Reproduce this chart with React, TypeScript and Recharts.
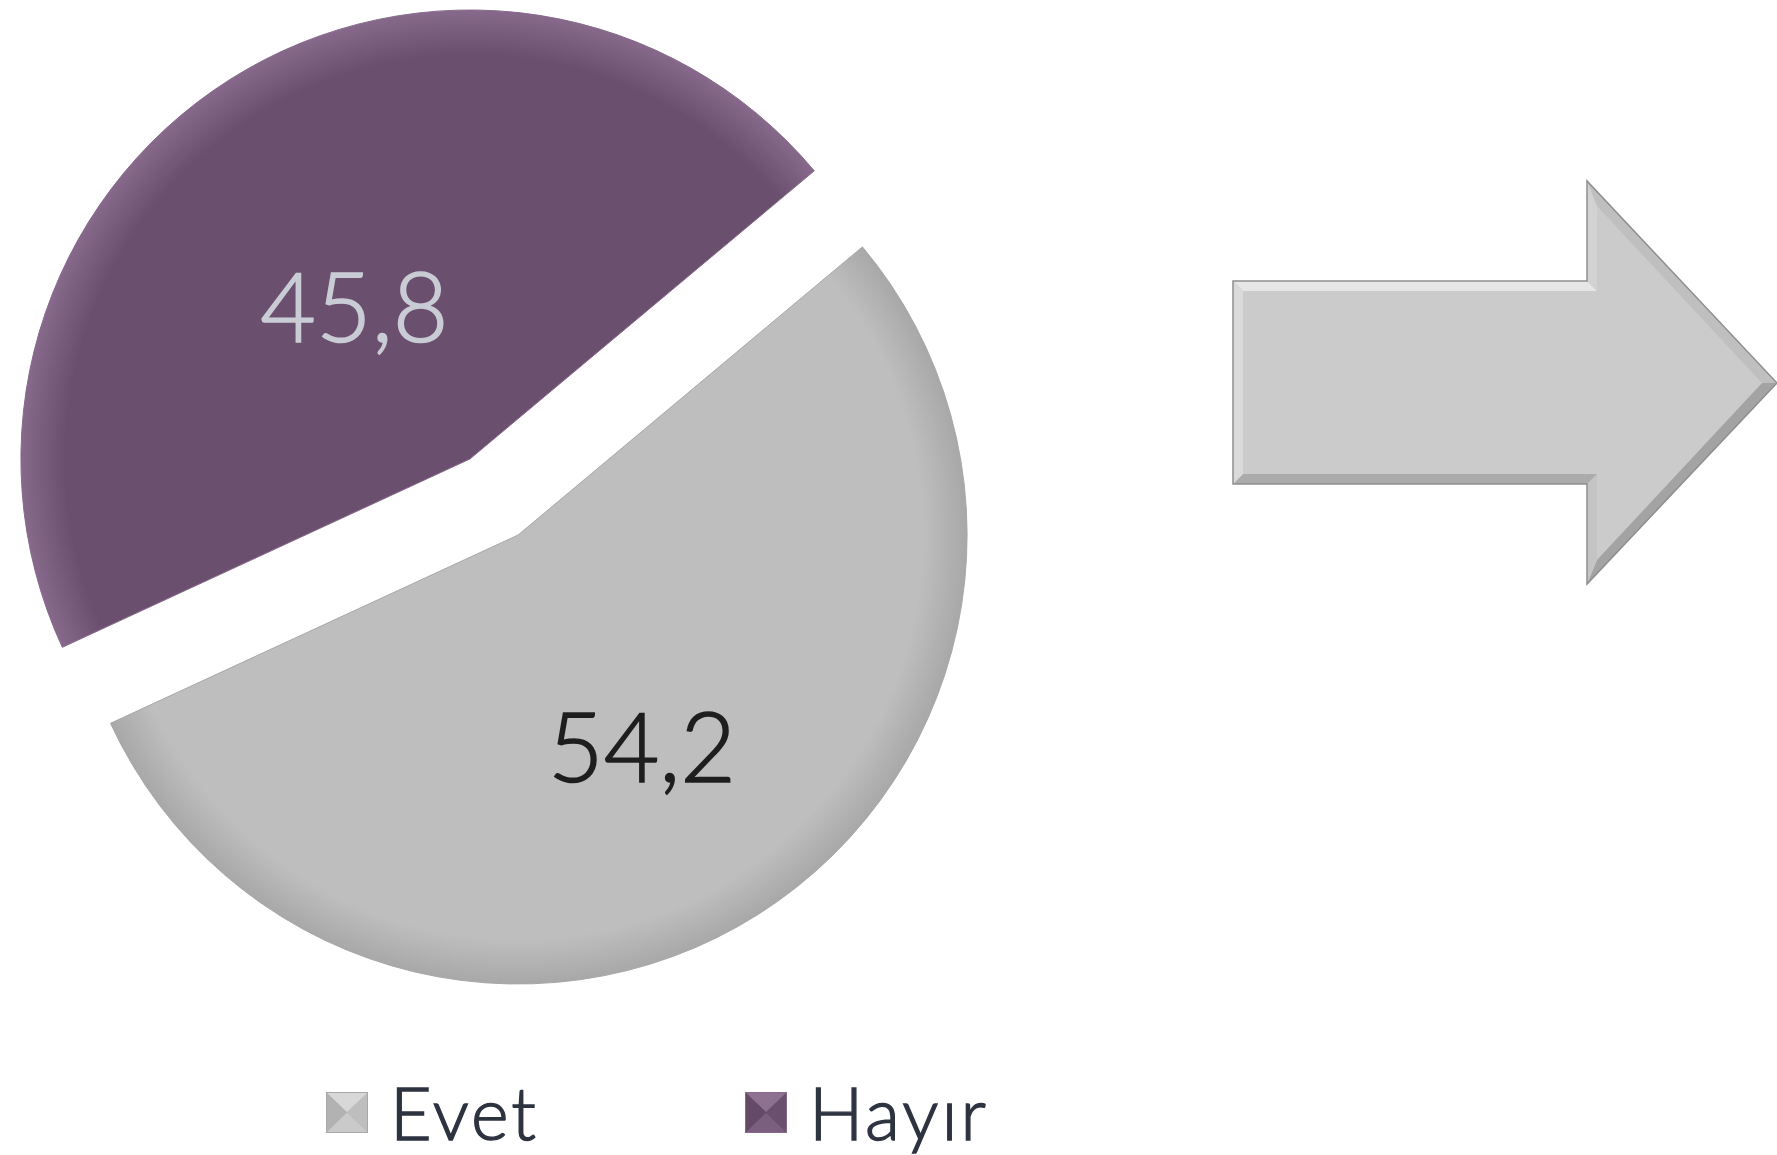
import React from "react";
import { PieChart, Pie, Cell, Legend } from "recharts";

// values
const categories = ["Evet", "Hayır"];
const values = [54.2, 45.8];
const sliceColors = ["#BEBEBE", "#6B4F6E"];
const edgeColors = ["#A8A8A8", "#876A8B"];
const iconLights = ["#E2E2E2", "#9C7FA0"];
const labelColors = ["#1E1E1E", "#C9CCD5"];

const data = categories.map((name, i) => ({ name, value: values[i] }));

const W = 1777;
const H = 1155;
const CX = 494;
const CY = 497;
const R = 449;
const EXPLODE = 45;
const START = 204.8;
const LABEL_R = [0.546, 0.425];
const LABEL_DA = [-2, 4.9];
const FONT = "'Century Gothic', Lato, 'Noto Sans', sans-serif";
const RAD = Math.PI / 180;

const total = values.reduce((a, b) => a + b, 0);
const midAngles = values.map(
  (v, i) => START + ((values.slice(0, i).reduce((a, b) => a + b, 0) + v / 2) / total) * 360
);
const centers = midAngles.map((m) => ({
  x: CX + EXPLODE * Math.cos(-m * RAD),
  y: CY + EXPLODE * Math.sin(-m * RAD),
}));

const fmt = (v: number) => String(v).replace(".", ",");

const makeLabel = (only: number) => (p: any) => {
  if (p.index !== only) return null;
  const r = p.outerRadius * LABEL_R[only];
  const a = (p.midAngle + LABEL_DA[only]) * RAD;
  const x = p.cx + r * Math.cos(-a);
  const y = p.cy + r * Math.sin(-a);
  return (
    <text
      key={"lbl" + only}
      x={x}
      y={y + 35}
      fill={labelColors[only]}
      stroke={labelColors[only]}
      strokeWidth={1.6}
      fontSize={96}
      fontWeight={300}
      fontFamily={FONT}
      textAnchor="middle"
    >
      {fmt(values[only])}
    </text>
  );
};

function LegendIcon({ i }: { i: number }) {
  return (
    <svg width={42} height={41} style={{ display: "block" }}>
      <rect x={0} y={0} width={42} height={41} fill={sliceColors[i]} />
      <polygon points="0,0 42,0 21,20" fill={iconLights[i]} opacity={0.7} />
      <polygon points="0,41 42,41 21,21" fill={iconLights[i]} opacity={0.35} />
      <polygon points="0,0 0,41 21,20" fill="#000" opacity={0.06} />
      <rect x={0.5} y={0.5} width={41} height={40} fill="none" stroke={edgeColors[i]} />
    </svg>
  );
}

function LegendBox() {
  const lefts = [326, 745];
  return (
    <div style={{ position: "relative", width: W, height: 80 }}>
      {categories.map((c, i) => (
        <div key={c} style={{ position: "absolute", left: lefts[i], top: 0, display: "flex", alignItems: "center" }}>
          <LegendIcon i={i} />
          <span
            style={{
              marginLeft: 22,
              fontFamily: FONT,
              fontSize: 72,
              fontWeight: 300,
              letterSpacing: 3,
              lineHeight: "72px",
              color: "#2E3340",
              WebkitTextStroke: "1.4px #2E3340",
            }}
          >
            {c}
          </span>
        </div>
      ))}
    </div>
  );
}

function Arrow() {
  // decorative block arrow beside the pie
  const o = [
    [1233, 281], [1587, 281], [1587, 181], [1777, 383], [1587, 584], [1587, 484], [1233, 484],
  ];
  const n = [
    [1243, 291], [1597, 291], [1597, 206], [1762, 383], [1597, 560], [1597, 474], [1243, 474],
  ];
  const shades = ["#E6E6E6", "#D2D2D2", "#BFBFBF", "#A3A3A3", "#C4C4C4", "#ABABAB", "#DADADA"];
  const pts = (a: number[][]) => a.map((p) => p.join(",")).join(" ");
  return (
    <svg width={W} height={H} style={{ position: "absolute", left: 0, top: 0, pointerEvents: "none" }}>
      <polygon points={pts(o)} fill="#CBCBCB" />
      {o.map((p, i) => {
        const q = o[(i + 1) % o.length];
        return <polygon key={i} points={pts([p, q, n[(i + 1) % n.length], n[i]])} fill={shades[i]} />;
      })}
      <polygon points={pts(o)} fill="none" stroke="#8F8F8F" strokeWidth={1.5} />
    </svg>
  );
}

export default function App() {
  return (
    <div style={{ position: "absolute", left: 0, top: 0, width: W, height: H, background: "#fff" }}>
      <PieChart width={W} height={H} margin={{ top: 0, right: 0, bottom: 0, left: 0 }}>
        <defs>
          {values.map((_, i) => (
            <radialGradient
              key={i}
              id={"slice" + i}
              gradientUnits="userSpaceOnUse"
              cx={centers[i].x}
              cy={centers[i].y}
              r={R}
            >
              <stop offset="0%" stopColor={sliceColors[i]} />
              <stop offset="90%" stopColor={sliceColors[i]} />
              <stop offset="100%" stopColor={edgeColors[i]} />
            </radialGradient>
          ))}
        </defs>
        {values.map((_, only) => (
          <Pie
            key={only}
            data={data}
            dataKey="value"
            nameKey="name"
            cx={centers[only].x}
            cy={centers[only].y}
            innerRadius={0}
            outerRadius={R}
            startAngle={START}
            endAngle={START + 360}
            isAnimationActive={false}
            labelLine={false}
            label={makeLabel(only)}
          >
            {data.map((d, j) => (
              <Cell
                key={d.name}
                fill={j === only ? `url(#slice${j})` : "transparent"}
                stroke={j === only ? edgeColors[j] : "none"}
                strokeWidth={1}
              />
            ))}
          </Pie>
        ))}
        <Legend
          content={() => <LegendBox />}
          wrapperStyle={{ position: "absolute", left: 0, top: 1076, width: W, height: 80 }}
        />
      </PieChart>
      <Arrow />
    </div>
  );
}
